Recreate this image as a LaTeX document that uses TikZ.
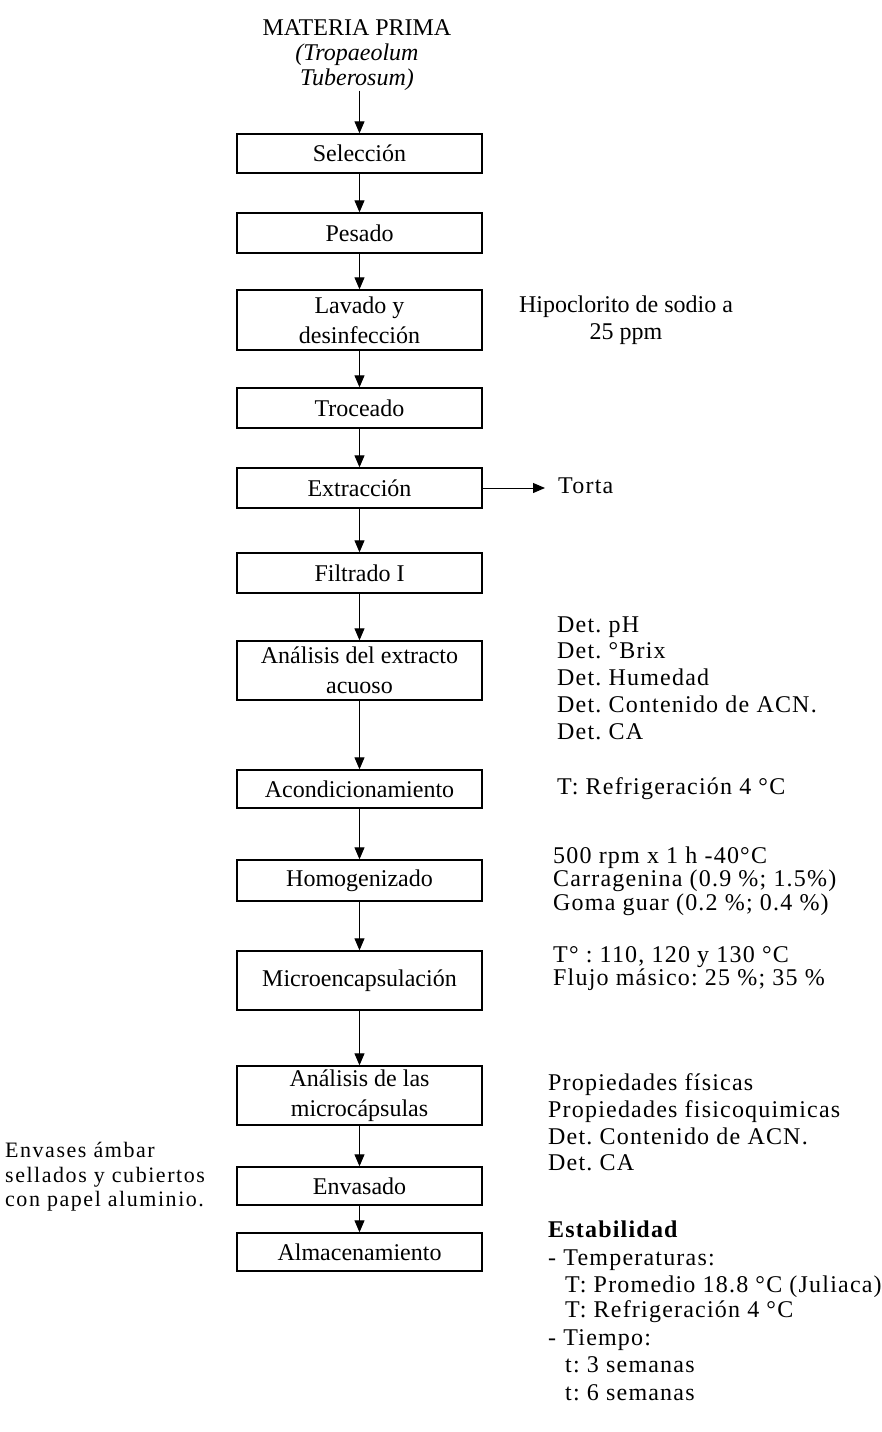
\documentclass[tikz,border=0pt]{standalone}
\usepackage{fontspec}
\setmainfont{Liberation Serif}
\newfontfamily\sidefont[LetterSpace=5]{Liberation Serif}
\newfontfamily\notefont[LetterSpace=7]{Liberation Serif}
\usetikzlibrary{arrows.meta}
\frenchspacing
\begin{document}
\frenchspacing
\begin{tikzpicture}[x=1pt,y=-1pt,
  stepbox/.style={draw, line width=1.4pt, minimum width=245pt, inner sep=2pt, align=center,
    font=\fontsize{24}{30}\selectfont},
  flow/.style={-{Triangle[length=12pt,width=10pt]}, line width=1pt},
  side/.style={anchor=west, inner sep=0pt, font=\sidefont\fontsize{24}{27}\selectfont, text height=16pt, text depth=5pt},
  leftnote/.style={anchor=west, inner sep=0pt, font=\notefont\fontsize{22}{24}\selectfont, text height=15pt, text depth=5pt}]
\useasboundingbox[fill=white] (0,0) rectangle (882,1432);

% top
\node[align=center, inner sep=0pt, font=\fontsize{24}{25}\selectfont] (mp) at (357,55)
  {MATERIA PRIMA\\\textit{(Tropaeolum}\\\textit{Tuberosum)}};

% boxes
\node[stepbox, minimum height=39pt] (sel) at (359.5,153.5) {Selección};
\node[stepbox, minimum height=40pt] (pes) at (359.5,233) {Pesado};
\node[stepbox, minimum height=60pt] (lav) at (359.5,320) {Lavado y\\desinfección};
\node[stepbox, minimum height=40pt] (tro) at (359.5,408) {Troceado};
\node[stepbox, minimum height=40pt] (ext) at (359.5,488) {Extracción};
\node[stepbox, minimum height=40pt] (fil) at (359.5,573) {Filtrado I};
\node[stepbox, minimum height=59pt] (ana) at (359.5,670.5) {Análisis del extracto\\acuoso};
\node[stepbox, minimum height=38pt] (aco) at (359.5,789) {Acondicionamiento};
\node[stepbox, minimum height=41pt] (hom) at (359.5,880.5) {Homogenizado};
\node[stepbox, minimum height=59pt] (mic) at (359.5,980.5) {Microencapsulación};
\node[stepbox, minimum height=59pt] (anm) at (359.5,1095.5) {Análisis de las\\microcápsulas};
\node[stepbox, minimum height=38pt] (env) at (359.5,1186) {Envasado};
\node[stepbox, minimum height=38pt] (alm) at (359.5,1252) {Almacenamiento};

% arrows
\draw[flow] (sel.north |- mp.south) -- (sel.north);
\draw[flow] (sel) -- (pes);
\draw[flow] (pes) -- (lav);
\draw[flow] (lav) -- (tro);
\draw[flow] (tro) -- (ext);
\draw[flow] (ext) -- (fil);
\draw[flow] (fil) -- (ana);
\draw[flow] (ana) -- (aco);
\draw[flow] (aco) -- (hom);
\draw[flow] (hom) -- (mic);
\draw[flow] (mic) -- (anm);
\draw[flow] (anm) -- (env);
\draw[flow] (env) -- (alm);

% Torta
\node[side] (torta) at (558,488) {Torta};
\coordinate (tortaend) at (545,488);
\draw[flow] (ext.east) -- (tortaend);

% side notes
\node[align=center, inner sep=0pt, font=\fontsize{24}{27}\selectfont] (hip) at (626,320) {Hipoclorito de sodio a\\25 ppm};

\node[side] (a1) at (557,627) {Det. pH};
\node[side] (a2) at (557,653) {Det. °Brix};
\node[side] (a3) at (557,680) {Det. Humedad};
\node[side] (a4) at (557,707) {Det. Contenido de ACN.};
\node[side] (a5) at (557,734) {Det. CA};

\node[side] (c1) at (557,789) {T: Refrigeración 4 °C};

\node[side] (h1) at (553,858) {500 rpm x 1 h -40°C};
\node[side] (h2) at (553,881) {Carragenina (0.9 \%; 1.5\%)};
\node[side] (h3) at (553,905) {Goma guar (0.2 \%; 0.4 \%)};

\node[side] (m1) at (553,957) {T° : 110, 120 y 130 °C};
\node[side] (m2) at (553,980) {Flujo másico: 25 \%; 35 \%};

\node[side] (p1) at (548,1085) {Propiedades físicas};
\node[side] (p2) at (548,1112) {Propiedades fisicoquimicas};
\node[side] (p3) at (548,1139) {Det. Contenido de ACN.};
\node[side] (p4) at (548,1165) {Det. CA};

\node[side] (e1) at (548,1232) {\textbf{Estabilidad}};
\node[side] (e2) at (548,1260) {- Temperaturas:};
\node[side] (e3) at (565,1287) {T: Promedio 18.8 °C (Juliaca)};
\node[side] (e4) at (565,1312) {T: Refrigeración 4 °C};
\node[side] (e5) at (548,1340) {- Tiempo:};
\node[side] (e6) at (565,1367) {t: 3 semanas};
\node[side] (e7) at (565,1395) {t: 6 semanas};

\node[leftnote] (l1) at (5,1152) {Envases ámbar};
\node[leftnote] (l2) at (5,1177) {sellados y cubiertos};
\node[leftnote] (l3) at (5,1201) {con papel aluminio.};
\end{tikzpicture}
\end{document}
